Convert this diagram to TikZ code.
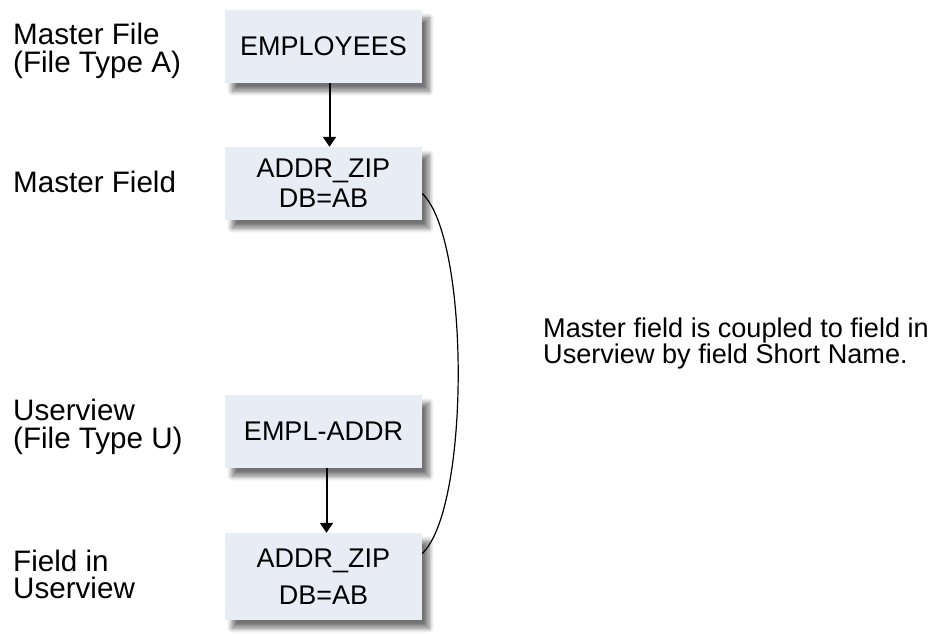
\documentclass[tikz,border=0pt]{standalone}
\usepackage{fontspec}
\setmainfont{Liberation Sans}
\usetikzlibrary{shadows.blur,arrows.meta}
\definecolor{boxfill}{HTML}{E8ECF4}
\tikzset{
  entbox/.style={fill=boxfill, minimum width=197pt, minimum height=73pt, inner sep=0pt,
    align=center, font=\fontsize{27}{30}\selectfont,
    blur shadow={shadow xshift=7pt, shadow yshift=-8pt, shadow blur steps=8, shadow blur radius=5pt, shadow opacity=55}},
  lbl/.style={anchor=base west, align=left, inner sep=0pt, font=\fontsize{29.6}{28}\selectfont},
  conn/.style={-{Triangle[length=10pt,width=13pt]}, line width=2pt},
}
\begin{document}
\begin{tikzpicture}[x=1pt,y=-1pt]
\useasboundingbox (0,0) rectangle (935,634);
\node[entbox] (emp) at (323.5,46.5) {EMPLOYEES};
\node[entbox] (zip1) at (323.5,183.5) {ADDR\_ZIP\\DB=AB};
\node[entbox] (empl) at (323.5,431.5) {EMPL-ADDR};
\node[entbox, font=\fontsize{27}{37}\selectfont, minimum height=87pt] (zip2) at (323.5,576.5) {ADDR\_ZIP\\DB=AB};

\node[lbl] (l1) at (13,73) {Master File\\(File Type A)};
\node[lbl] (l2) at (13,192) {Master Field};
\node[lbl] (l3) at (13,448) {Userview\\(File Type U)};
\node[lbl, font=\fontsize{29.6}{27}\selectfont] (l4) at (13,598) {Field in\\Userview};
\node[lbl, font=\fontsize{27.1}{25.5}\selectfont] (note) at (543,363) {Master field is coupled to field in\\Userview by field Short Name.};

\draw[conn] ([xshift=6pt]emp.south) -- ([xshift=6pt]zip1.north);
\draw[conn] ([xshift=3pt]empl.south) -- ([xshift=3pt]zip2.north);
\draw[line width=1.2pt] ([yshift=-10pt]zip1.east) .. controls +(48,45) and +(48,-45) .. ([yshift=23pt]zip2.east);
\end{tikzpicture}
\end{document}
